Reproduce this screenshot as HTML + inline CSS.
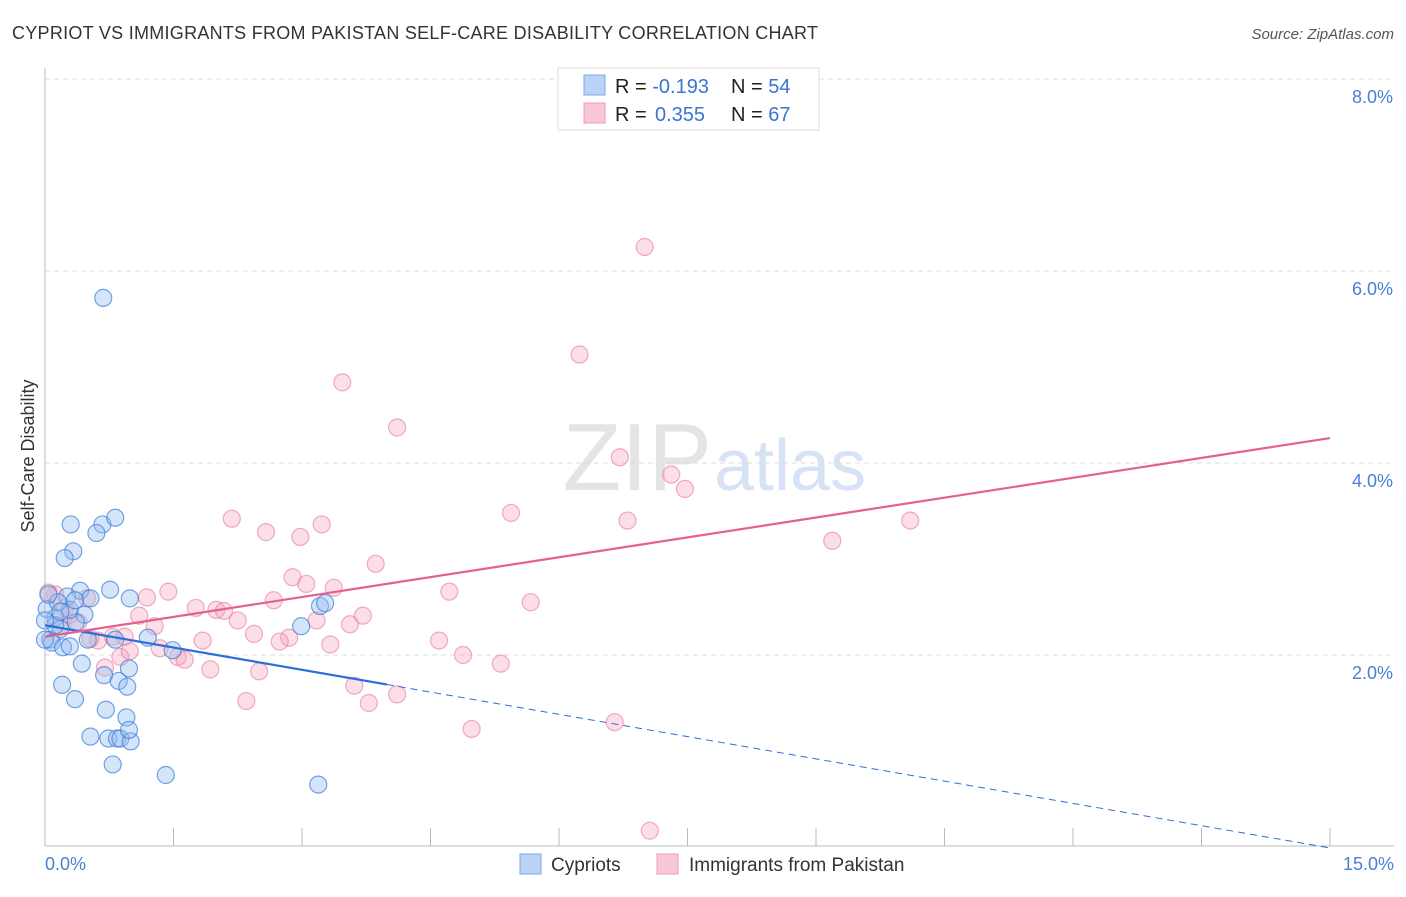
<!DOCTYPE html>
<html><head><meta charset="utf-8"><style>
body{margin:0;background:#fff;font-family:"Liberation Sans",sans-serif}
svg text{font-family:"Liberation Sans",sans-serif}
</style></head><body>
<svg id="c" width="1406" height="892">
<text x="12" y="39" font-size="18" fill="#333" textLength="806">CYPRIOT VS IMMIGRANTS FROM PAKISTAN SELF-CARE DISABILITY CORRELATION CHART</text>
<text x="1394" y="39" font-size="15" fill="#555" font-style="italic" text-anchor="end">Source: ZipAtlas.com</text>
<text x="712" y="490" font-size="96" fill="#e4e4e4" font-family="Liberation Serif" text-anchor="end">ZIP</text>
<text x="714" y="490" font-size="72" fill="#d5e3f5">atlas</text>
<g id="grid"></g>
<line x1="45" y1="68" x2="45" y2="846" stroke="#bbb"/>
<line x1="45" y1="846" x2="1394" y2="846" stroke="#bbb"/>
<text x="34" y="456" font-size="18" fill="#333" text-anchor="middle" transform="rotate(-90 34 456)">Self-Care Disability</text>
<text x="45" y="870" font-size="18" fill="#4a7fd6">0.0%</text>
<text x="1394" y="870" font-size="18" fill="#4a7fd6" text-anchor="end">15.0%</text>
<g id="pts"></g>
<g id="lines"></g>
<g>
<rect x="558" y="68" width="261" height="62" fill="#fff" stroke="#ddd"/>
<rect x="584" y="75" width="21" height="20" fill="#b8d3f5" stroke="#7aa8e8"/>
<rect x="584" y="103" width="21" height="20" fill="#f9c8d6" stroke="#f09ab4"/>
<text x="615" y="93" font-size="20" fill="#222">R = <tspan fill="#3b74d4">-0.193</tspan><tspan x="731">N = </tspan><tspan fill="#3b74d4">54</tspan></text>
<text x="615" y="121" font-size="20" fill="#222">R = <tspan fill="#3b74d4" x="655">0.355</tspan><tspan x="731">N = </tspan><tspan fill="#3b74d4">67</tspan></text>
</g>
<g>
<rect x="520" y="854" width="21" height="20" fill="#b8d3f5" stroke="#7aa8e8"/>
<text x="551" y="871" font-size="19" fill="#333">Cypriots</text>
<rect x="657" y="854" width="21" height="20" fill="#f9c8d6" stroke="#f09ab4"/>
<text x="689" y="871" font-size="19" fill="#333">Immigrants from Pakistan</text>
</g>
</svg>
<script>
const yTicks=[2,4,6,8];
const yTickLabels=["2.0%","4.0%","6.0%","8.0%"];
const xTicks=[0,1.5,3,4.5,6,7.5,9,10.5,12,13.5,15];
const blueX=[0.68,0.30,0.67,0.82,0.33,0.23,0.60,0.41,0.26,0.46,0.12,0.02,0.36,0.18,0.06,0.08,0.21,0.29,0.50,0.82,1.20,1.49,0.43,0.69,0.86,0.96,0.98,0.20,0.35,0.71,0.95,0.53,0.74,0.84,0.88,1.00,0.98,0.79,1.41,3.19,2.99,3.21,3.27,0.12,0.0,0.0,0.29,0.15,0.04,0.53,0.18,0.35,0.99,0.76];
const blueY=[5.72,3.36,3.36,3.43,3.08,3.01,3.27,2.67,2.61,2.42,2.39,2.48,2.34,2.27,2.16,2.13,2.08,2.09,2.16,2.16,2.18,2.05,1.91,1.79,1.73,1.67,1.86,1.69,1.54,1.43,1.35,1.15,1.13,1.13,1.13,1.10,1.22,0.86,0.75,0.65,2.30,2.51,2.54,2.31,2.36,2.16,2.47,2.55,2.63,2.59,2.45,2.57,2.59,2.68];
const pinkX=[7.00,6.24,3.47,4.11,6.71,7.31,7.47,5.44,6.80,10.10,9.19,2.18,2.58,2.98,3.23,3.86,2.89,3.05,3.37,4.72,5.67,2.67,1.76,2.00,2.09,2.25,3.17,3.71,3.56,1.10,1.28,1.19,1.44,1.84,2.44,2.85,2.74,3.33,4.60,4.88,5.32,1.34,1.55,1.63,1.93,2.50,0.70,0.88,0.99,0.79,0.62,0.93,2.35,3.61,3.78,4.11,4.98,6.65,7.06,0.49,0.29,0.12,0.04,0.18,0.53,0.39,0.23];
const pinkY=[6.25,5.13,4.84,4.37,4.06,3.88,3.73,3.48,3.40,3.40,3.19,3.42,3.28,3.23,3.36,2.95,2.81,2.74,2.70,2.66,2.55,2.57,2.49,2.47,2.46,2.36,2.36,2.41,2.32,2.41,2.30,2.60,2.66,2.15,2.22,2.18,2.14,2.11,2.15,2.00,1.91,2.07,1.98,1.95,1.85,1.83,1.87,1.98,2.04,2.19,2.15,2.19,1.52,1.68,1.50,1.59,1.23,1.30,0.17,2.59,2.42,2.63,2.65,2.30,2.17,2.34,2.49];
const blueLine=[0,2.31,15,-0.01];
const blueSolidEnd=3.99;
const pinkLine=[0,2.19,15,4.26];
const X=v=>45+v/15*1285, Y=v=>847-v/2*192;
const NS="http://www.w3.org/2000/svg";
function mk(t,a,p){const e=document.createElementNS(NS,t);for(const k in a)e.setAttribute(k,a[k]);p.appendChild(e);return e;}
const grid=document.getElementById('grid');
yTicks.forEach((v,i)=>{
 const l=mk('line',{x1:45,x2:1394,y1:Y(v),y2:Y(v),stroke:'#ddd','stroke-dasharray':'5,4'},grid);
 
 
 const t=mk('text',{x:1393,y:Y(v)+24,'font-size':18,fill:'#4a7fd6','text-anchor':'end'},grid);
 t.textContent=yTickLabels[i];
 
 
});
const topLine=mk('line',{x1:45,x2:1394,y1:79,y2:79,stroke:'#ddd','stroke-dasharray':'5,4'},grid);


xTicks.forEach(v=>{
 const l=mk('line',{x1:X(v),x2:X(v),y1:828,y2:846,stroke:'#bbb'},grid);
 
 
});
const pts=document.getElementById('pts');
pinkX.forEach((x,i)=>{
 const c=mk('circle',{cx:X(x),cy:Y(pinkY[i]),r:8.5,fill:'rgba(246,160,185,0.35)',stroke:'rgba(232,120,155,0.6)','stroke-width':1.2},pts);
 
 
});
blueX.forEach((x,i)=>{
 const c=mk('circle',{cx:X(x),cy:Y(blueY[i]),r:8.5,fill:'rgba(150,190,240,0.4)',stroke:'rgba(60,125,215,0.7)','stroke-width':1.2},pts);
 
 
});
const lines=document.getElementById('lines');
const by=x=>blueLine[1]+(blueLine[3]-blueLine[1])*(x-blueLine[0])/(blueLine[2]-blueLine[0]);
const l1=mk('line',{x1:X(0),y1:Y(by(0)),x2:X(blueSolidEnd),y2:Y(by(blueSolidEnd)),stroke:'#2d6fd8','stroke-width':2.2},lines);


const l2=mk('line',{x1:X(blueSolidEnd),y1:Y(by(blueSolidEnd)),x2:X(15),y2:Y(by(15)),stroke:'#2d6fd8','stroke-width':1,'stroke-dasharray':'7,5'},lines);


const l3=mk('line',{x1:X(pinkLine[0]),y1:Y(pinkLine[1]),x2:X(pinkLine[2]),y2:Y(pinkLine[3]),stroke:'#e5608c','stroke-width':2.2},lines);


</script>
</body></html>
